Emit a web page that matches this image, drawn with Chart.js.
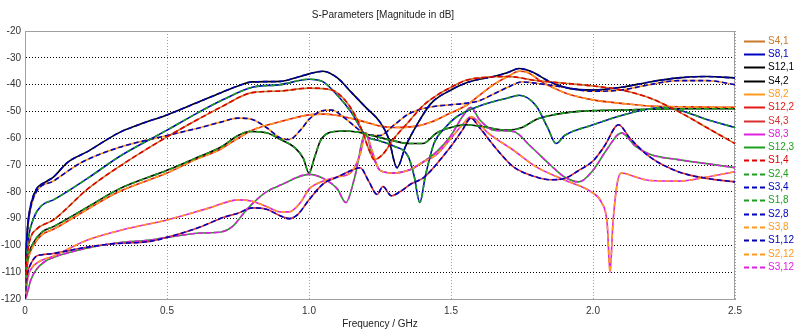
<!DOCTYPE html>
<html>
<head>
<meta charset="utf-8">
<script src="https://cdn.jsdelivr.net/npm/chart.js@4.4.1/dist/chart.umd.min.js"></script>
<style>
html, body { margin: 0; padding: 0; background: #fff; }
</style>
</head>
<body>
<canvas id="sParamChart" width="800" height="334"></canvas>
<script>
const chartTitle = 'S-Parameters [Magnitude in dB]';
const xTitle = 'Frequency / GHz';

// S12,1 / S1,12
const freq121 = [0,0.005,0.01,0.02,0.04,0.07,0.1,0.15,0.22,0.33,0.4,0.5,0.6,0.69,0.75,0.8,0.9,0.95,1.0,1.05,1.1,1.15,1.2,1.25,1.28,1.31,1.34,1.38,1.43,1.5,1.55,1.6,1.65,1.7,1.74,1.78,1.85,1.92,2.0,2.1,2.2,2.3,2.4,2.5];
const db121 = [-112,-100,-92,-85,-79,-76.5,-74.5,-69,-65,-58,-55,-51.3,-47,-43,-40.5,-39,-38.8,-37.5,-36,-35,-37.5,-43,-48.5,-54,-60,-71,-63,-55,-47,-42,-39.5,-38,-37,-35.5,-34,-35,-39,-41.5,-42,-41,-39,-37.5,-37,-37.5];

// S8,1 / S1,8
const freq81 = [0,0.005,0.01,0.03,0.06,0.1,0.22,0.33,0.5,0.6,0.7,0.8,0.9,1.0,1.05,1.1,1.15,1.2,1.25,1.3,1.35,1.37,1.39,1.41,1.44,1.48,1.52,1.6,1.7,1.74,1.8,1.84,1.87,1.9,2.0,2.1,2.2,2.25,2.32,2.4,2.5];
const db81 = [-115,-106,-99,-90,-85,-83,-75,-67,-57,-51,-45.5,-41,-40,-38,-39,-44,-50.5,-59,-61,-63,-67,-74,-84,-74,-62,-56,-52,-48,-45,-44,-48,-56,-62,-59,-55,-51.5,-49,-48.5,-50,-53,-56];

// S4,1 / S1,4
const freq41 = [0,0.005,0.01,0.02,0.04,0.1,0.22,0.33,0.5,0.6,0.69,0.8,0.9,1.0,1.08,1.12,1.16,1.19,1.21,1.23,1.26,1.3,1.35,1.4,1.45,1.5,1.55,1.6,1.7,1.8,1.9,2.0,2.1,2.2,2.3,2.4,2.5];
const db41 = [-117,-108,-102,-97,-94,-90.5,-79,-70.7,-59.5,-53.5,-48.4,-43,-42.4,-41.3,-42,-45,-51,-58,-64,-68,-66,-60,-54,-48,-44,-41,-38.5,-37.5,-37,-38.5,-39.5,-40.5,-42,-45,-50,-56,-62];

// S8,2 / S2,8
const freq82 = [0,0.005,0.01,0.02,0.04,0.1,0.2,0.33,0.5,0.6,0.69,0.75,0.8,0.85,0.9,0.93,0.97,1.0,1.04,1.08,1.12,1.16,1.2,1.25,1.3,1.35,1.4,1.45,1.5,1.55,1.6,1.65,1.7,1.75,1.8,1.9,2.0,2.1,2.2,2.3,2.4,2.5];
const db82 = [-113,-101,-93,-86,-80,-76,-69,-63.5,-59,-56.5,-54,-52.5,-53,-56,-60,-60.5,-57,-53,-50,-49.5,-52,-55.5,-58.5,-59,-55,-51,-49,-48,-47.5,-47,-46,-43.5,-41,-39,-39.5,-41,-42.5,-42,-40,-38.5,-38.5,-40];

// S12,2 / S2,12
const freq122 = [0,0.005,0.01,0.03,0.06,0.1,0.22,0.33,0.5,0.6,0.69,0.75,0.8,0.9,1.0,1.05,1.1,1.2,1.25,1.3,1.38,1.43,1.5,1.55,1.6,1.65,1.7,1.74,1.77,1.82,1.9,2.0,2.1,2.2,2.35,2.5];
const db122 = [-119,-111,-106,-100,-96,-94,-86.5,-80,-73,-68,-64,-60,-57,-53.8,-51.3,-51,-51.5,-54,-55.5,-56,-55.5,-54,-50.5,-48,-44,-40,-37,-35,-35.5,-39,-43,-45.7,-47,-48,-48.3,-48.5];

// S4,2 / S2,4
const freq42 = [0,0.005,0.01,0.03,0.06,0.1,0.22,0.33,0.5,0.6,0.69,0.75,0.79,0.85,0.9,0.95,0.98,1.0,1.02,1.04,1.07,1.12,1.17,1.22,1.3,1.35,1.4,1.45,1.5,1.55,1.6,1.7,1.75,1.8,1.85,1.95,2.1,2.3,2.5];
const db42 = [-118,-110,-105,-99,-95,-93,-85.7,-79,-72,-67.5,-63.3,-59,-57.5,-58,-60.5,-63.5,-67.5,-73,-67,-61,-58,-57.3,-57.7,-59,-61,-62,-62,-58,-56,-55,-55.5,-57,-56,-53,-51.5,-50,-49.5,-49,-49];

// S8,3 / S3,8
const freq83 = [0,0.005,0.01,0.02,0.05,0.1,0.22,0.35,0.5,0.65,0.75,0.8,0.85,0.9,0.93,0.97,1.0,1.05,1.1,1.15,1.18,1.2,1.22,1.25,1.3,1.35,1.4,1.45,1.5,1.54,1.57,1.63,1.72,1.8,1.9,2.0,2.03,2.05,2.06,2.07,2.085,2.1,2.15,2.2,2.3,2.4,2.5];
const db83 = [-120,-116,-112,-109,-106,-104,-98,-94,-90.5,-86,-83,-83.5,-85.5,-87.5,-87.5,-84,-79,-76,-74.5,-72.5,-66,-58,-64,-72,-73,-72,-69,-66,-60,-55,-52,-58,-64.5,-70.7,-75.6,-80.5,-84,-92,-110,-92,-77,-73,-74.5,-75.8,-76,-74.5,-72.5];

// S4,3 / S3,4
const freq43 = [0,0.005,0.01,0.02,0.04,0.06,0.1,0.2,0.3,0.44,0.5,0.62,0.7,0.75,0.8,0.85,0.9,0.93,0.96,1.0,1.05,1.1,1.15,1.18,1.21,1.24,1.26,1.29,1.32,1.36,1.4,1.43,1.47,1.5,1.54,1.57,1.6,1.66,1.72,1.8,1.85,1.9,1.95,2.0,2.04,2.09,2.13,2.2,2.3,2.4,2.5];
const db43 = [-120,-114,-110,-107,-104,-103.5,-103,-101,-99.5,-98.5,-97,-93,-89.5,-88,-86,-86.5,-89,-90,-88.5,-83,-77,-74.5,-72,-71,-76,-81,-78,-81.5,-80,-77,-75,-72,-67,-63,-57,-52.5,-56,-64,-70.7,-74.5,-75.5,-75,-72,-68.5,-63,-55,-60,-67,-72.5,-75,-76.3];

// S12,3 / S3,12
const freq123 = [0,0.005,0.01,0.02,0.04,0.07,0.1,0.22,0.33,0.44,0.5,0.62,0.69,0.73,0.77,0.8,0.85,0.9,1.0,1.05,1.1,1.13,1.16,1.2,1.22,1.25,1.3,1.35,1.4,1.45,1.5,1.54,1.57,1.6,1.65,1.72,1.78,1.85,1.9,1.95,2.0,2.05,2.1,2.15,2.2,2.3,2.4,2.5];
const db123 = [-120,-119,-117,-113,-109,-106,-104.5,-101,-99,-98,-97,-95.4,-95,-93,-88,-84.5,-80,-77.5,-73.5,-75,-79,-84,-75,-58,-65,-72,-73,-72,-69,-65,-59,-52,-48.5,-53,-57,-57.5,-63,-70,-74.5,-76.3,-72,-64,-58,-63,-66,-68,-69.5,-71];

const seriesNames = ['S4,1','S8,1','S12,1','S4,2','S8,2','S12,2','S4,3','S8,3','S12,3',
                     'S1,4','S2,4','S3,4','S1,8','S2,8','S3,8','S1,12','S2,12','S3,12'];
const seriesColors = ['#c8782a','#0000c0','#000000','#000000','#ff9a1e','#e01818','#d83030','#e020e0','#1e9e1e',
                      '#e00000','#1e9e1e','#0000c0','#1e9e1e','#0000c0','#ff9a1e','#0000b0','#ff9a1e','#e020e0'];
const seriesDashed = [false,false,false,false,false,false,false,false,false,
                      true,true,true,true,true,true,true,true,true];
const seriesCurve = ['41','81','121','42','82','122','43','83','123',
                     '41','42','43','81','82','83','121','122','123'];

const curves = {
    '41': [freq41, db41], '81': [freq81, db81], '121': [freq121, db121],
    '42': [freq42, db42], '82': [freq82, db82], '122': [freq122, db122],
    '43': [freq43, db43], '83': [freq83, db83], '123': [freq123, db123]
};

const datasets = seriesNames.map((name, i) => {
    const [xs, ys] = curves[seriesCurve[i]];
    return {
        label: name,
        data: xs.map((x, k) => ({x: x, y: ys[k]})),
        borderColor: seriesColors[i],
        borderWidth: 1.6,
        borderDash: seriesDashed[i] ? [5, 3] : [],
        pointRadius: 0,
        cubicInterpolationMode: 'monotone',
        order: seriesDashed[i] ? 0 : 1
    };
});

const fontFamily = '"Liberation Sans", Arial, sans-serif';

const cstDecor = {
    id: 'cstDecor',
    beforeDatasetsDraw(chart) {
        const {ctx, chartArea: a} = chart;
        ctx.save();
        ctx.strokeStyle = '#a0a0a0';
        ctx.lineWidth = 1;
        ctx.strokeRect(a.left + 0.5, a.top + 0.5, a.right - a.left - 1, a.bottom - a.top);
        ctx.restore();
    },
    afterDraw(chart) {
        const {ctx, chartArea: a} = chart;
        ctx.save();
        ctx.font = '10px ' + fontFamily;
        ctx.textBaseline = 'middle';
        ctx.textAlign = 'center';
        ctx.fillStyle = '#222';
        ctx.fillText(chartTitle, (a.left + a.right) / 2 + 3, 15);
        ctx.textAlign = 'left';
        chart.data.datasets.forEach((ds, i) => {
            const y = Math.round(a.top + 9.7 + i * 13.3) + 0.5;
            const x = a.right + 9;
            ctx.strokeStyle = ds.borderColor;
            ctx.lineWidth = 2;
            ctx.setLineDash(ds.borderDash);
            ctx.beginPath();
            ctx.moveTo(x, y);
            ctx.lineTo(x + 21, y);
            ctx.stroke();
            ctx.setLineDash([]);
            ctx.fillStyle = ds.borderColor;
            ctx.fillText(ds.label, x + 24, y);
        });
        ctx.restore();
    }
};

const ctx = document.querySelector('#sParamChart').getContext('2d');

new Chart(ctx, {
    type: 'line',
    data: { datasets: datasets },
    options: {
        responsive: false,
        animation: false,
        devicePixelRatio: 1,
        layout: { padding: { top: 31, right: 65, left: 0, bottom: 0 } },
        scales: {
            x: {
                type: 'linear',
                min: 0,
                max: 2.5,
                ticks: { stepSize: 0.5, padding: 6, color: '#333', font: { size: 10, family: fontFamily } },
                grid: { color: '#a0a0a0', drawTicks: false },
                border: { display: true, color: '#a0a0a0', dash: [1, 2] },
                title: { display: true, text: xTitle, color: '#222', font: { size: 10, family: fontFamily }, padding: { top: 2, bottom: 4 } },
                afterFit: (scale) => { scale.height = 35; }
            },
            y: {
                min: -120,
                max: -20,
                ticks: { stepSize: 10, padding: 4, color: '#333', font: { size: 10, family: fontFamily } },
                grid: { color: '#000', drawTicks: false },
                border: { display: true, color: '#a0a0a0', dash: [1, 2] },
                afterFit: (scale) => { scale.width = 25; }
            }
        },
        plugins: {
            legend: { display: false },
            title: { display: false },
            tooltip: { enabled: false }
        }
    },
    plugins: [cstDecor]
});
</script>
</body>
</html>
